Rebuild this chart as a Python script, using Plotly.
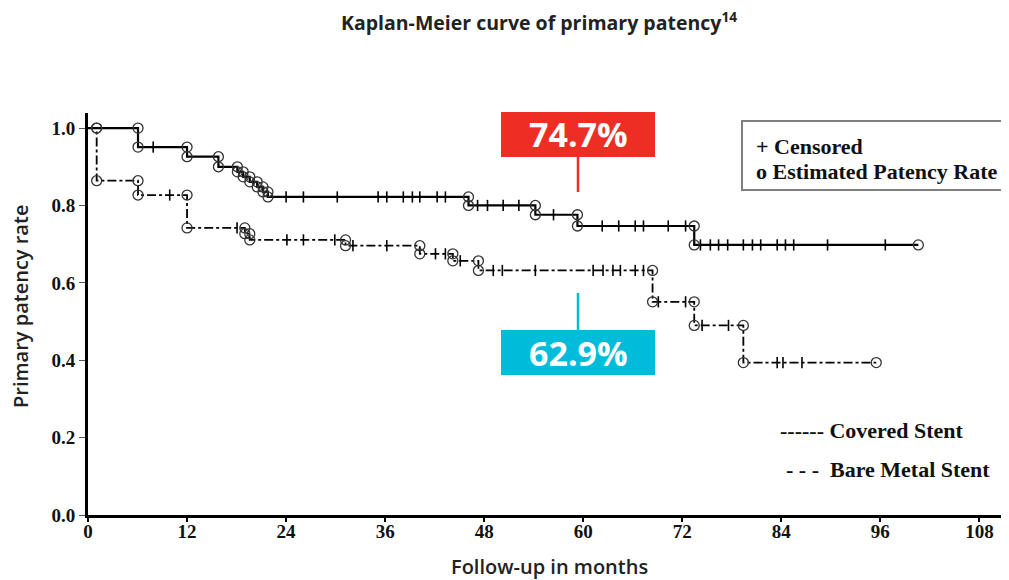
import plotly.graph_objects as go

# ---------------- data ----------------
x_ticks = [0, 12, 24, 36, 48, 60, 72, 84, 96, 108]
y_ticks = [0.0, 0.2, 0.4, 0.6, 0.8, 1.0]
y_tick_labels = ["0.0", "0.2", "0.4", "0.6", "0.8", "1.0"]

cov_event_times = [6.06, 12.0, 15.8, 18.1, 18.8, 19.6, 20.5, 21.2, 21.8, 46.1, 54.2, 59.3, 73.45]
cov_surv = [0.951, 0.926, 0.90, 0.887, 0.874, 0.861, 0.848, 0.835, 0.822, 0.80, 0.776, 0.747, 0.698]
cov_end = 100.6
cov_censor = [7.9, 24.0, 26.1, 30.2, 35.15, 36.2, 38.2, 39.3, 40.2, 42.3, 43.3, 47.2, 48.4, 50.3,
              52.2, 56.4, 62.3, 64.3, 66.3, 67.3, 70.3, 72.4, 74.2, 75.4, 76.4, 77.5, 79.4, 80.5,
              81.5, 83.5, 84.5, 85.5, 89.6, 96.6]

bms_event_times = [1.05, 6.06, 12.0, 19.0, 19.6, 31.2, 40.2, 44.2, 47.3, 68.4, 73.45, 79.4]
bms_surv = [0.864, 0.827, 0.742, 0.727, 0.711, 0.696, 0.675, 0.657, 0.632, 0.551, 0.49, 0.394]
bms_end = 95.5
bms_censor = [9.9, 18.06, 24.1, 26.1, 29.9, 32.1, 36.2, 42.1, 43.3, 45.1, 49.1, 50.2, 54.2,
              61.2, 62.4, 63.6, 64.5, 66.3, 67.3, 69.1, 72.4, 74.4, 77.6, 83.5, 84.2, 86.5]

label_covered = "74.7%"
label_bms = "62.9%"

# ---------------- layout geometry ----------------
OFF = 8  # page body margin
W, H = 1009 - OFF, 580 - OFF
ML, MR, MT, MB = 88 - OFF, 4, 113 - OFF, 65
PW, PH = W - ML - MR, H - MT - MB
X_MAX = 111.1
Y_MAX = 1.039


def px(xp):
    return (xp - OFF - ML) / PW


def py(yp):
    return (H - MB - (yp - OFF)) / PH


def step_xy(times, surv, end):
    xs, ys = [0], [1.0]
    for t, s in zip(times, surv):
        xs.append(t)
        ys.append(s)
    xs.append(end)
    ys.append(surv[-1])
    return xs, ys


def surv_at(times, surv, t):
    v = 1.0
    for tt, s in zip(times, surv):
        if tt <= t:
            v = s
    return v


def circle_pts(times, surv, end):
    cx, cy = [], []
    prev = 1.0
    for t, s in zip(times, surv):
        cx += [t, t]
        cy += [prev, s]
        prev = s
    cx.append(end)
    cy.append(surv[-1])
    return cx, cy


fig = go.Figure()

for times, surv, end, cens, dash, width in [
    (cov_event_times, cov_surv, cov_end, cov_censor, "solid", 2.2),
    (bms_event_times, bms_surv, bms_end, bms_censor, "dashdot", 1.8),
]:
    sx, sy = step_xy(times, surv, end)
    fig.add_trace(go.Scatter(x=sx, y=sy, mode="lines", line=dict(shape="hv", color="black", width=width, dash=dash),
                             showlegend=False, hoverinfo="skip"))
    fig.add_trace(go.Scatter(x=cens, y=[surv_at(times, surv, c) for c in cens], mode="markers",
                             marker=dict(symbol="line-ns", size=8, line=dict(color="black", width=1.6)),
                             showlegend=False, hoverinfo="skip"))
    cx, cy = circle_pts(times, surv, end)
    fig.add_trace(go.Scatter(x=cx, y=cy, mode="markers",
                             marker=dict(symbol="circle-open", size=10, color="#333", line=dict(color="#333", width=1.3)),
                             showlegend=False, hoverinfo="skip"))

# circle at ~1 month on the covered curve
fig.add_trace(go.Scatter(x=[1.05], y=[1.0], mode="markers",
                         marker=dict(symbol="circle-open", size=10, color="#333", line=dict(color="#333", width=1.3)),
                         showlegend=False, hoverinfo="skip"))

serif = "Liberation Serif"
sans = "Open Sans"

shapes = [
    dict(type="rect", xref="paper", yref="paper", x0=px(742), x1=px(1007), y0=py(190), y1=py(121),
         line=dict(color="#808080", width=2), fillcolor="white"),
    dict(type="rect", xref="paper", yref="paper", x0=px(501), x1=px(655), y0=py(157), y1=py(112),
         line=dict(width=0), fillcolor="#EE2E24"),
    dict(type="line", xref="paper", yref="paper", x0=px(578), x1=px(578), y0=py(157), y1=py(192),
         line=dict(color="#EE2E24", width=2.5)),
    dict(type="rect", xref="paper", yref="paper", x0=px(501), x1=px(655), y0=py(375), y1=py(330),
         line=dict(width=0), fillcolor="#00BCDB"),
    dict(type="line", xref="paper", yref="paper", x0=px(578), x1=px(578), y0=py(293), y1=py(330),
         line=dict(color="#00BCDB", width=2.5)),
]


def ann(text, x, y, size, family, weight="bold", color="#111", xanchor="center", angle=0):
    return dict(text=text, xref="paper", yref="paper", x=px(x), y=py(y), xanchor=xanchor, yanchor="middle",
                textangle=angle, showarrow=False, font=dict(family=family, size=size, color=color, weight=weight))


annotations = [
    ann("Kaplan-Meier curve of primary patency<sup style='font-size:11px'>14</sup>", 539, 22, 19.5, sans, "bold", "#222"),
    ann(label_covered, 578, 134.5, 34, sans, "bold", "white"),
    ann(label_bms, 578, 352.5, 34, sans, "bold", "white"),
    ann("+ Censored", 754, 146, 22, serif, xanchor="left"),
    ann("o Estimated Patency Rate", 754, 171, 22, serif, xanchor="left"),
    ann("------ Covered Stent", 778, 430, 22, serif, xanchor="left"),
    ann("- - -  Bare Metal Stent", 784, 469, 22, serif, xanchor="left"),
    ann("Primary patency rate", 20, 307, 20, sans, 600, "#222", angle=-90),
    ann("Follow-up in months", 549, 566, 20, sans, 600, "#222"),
]

fig.update_layout(
    width=W, height=H,
    margin=dict(l=ML, r=MR, t=MT, b=MB),
    paper_bgcolor="white", plot_bgcolor="white",
    shapes=shapes, annotations=annotations,
    xaxis=dict(range=[0, X_MAX], tickvals=x_ticks, showgrid=False, zeroline=False, showline=True,
               linecolor="black", linewidth=2.5, ticks="outside", ticklen=4, tickwidth=1.5, tickcolor="black",
               ticklabelstandoff=-7,
               tickfont=dict(family=serif, size=19, color="#111", weight="bold")),
    yaxis=dict(range=[0, Y_MAX], tickvals=y_ticks, ticktext=y_tick_labels, showgrid=False, zeroline=False,
               showline=True, linecolor="black", linewidth=3, ticks="outside", ticklen=6, tickwidth=1,
               tickcolor="#555", tickfont=dict(family=serif, size=19, color="#111", weight="bold")),
)

fig.write_html("out.html")
